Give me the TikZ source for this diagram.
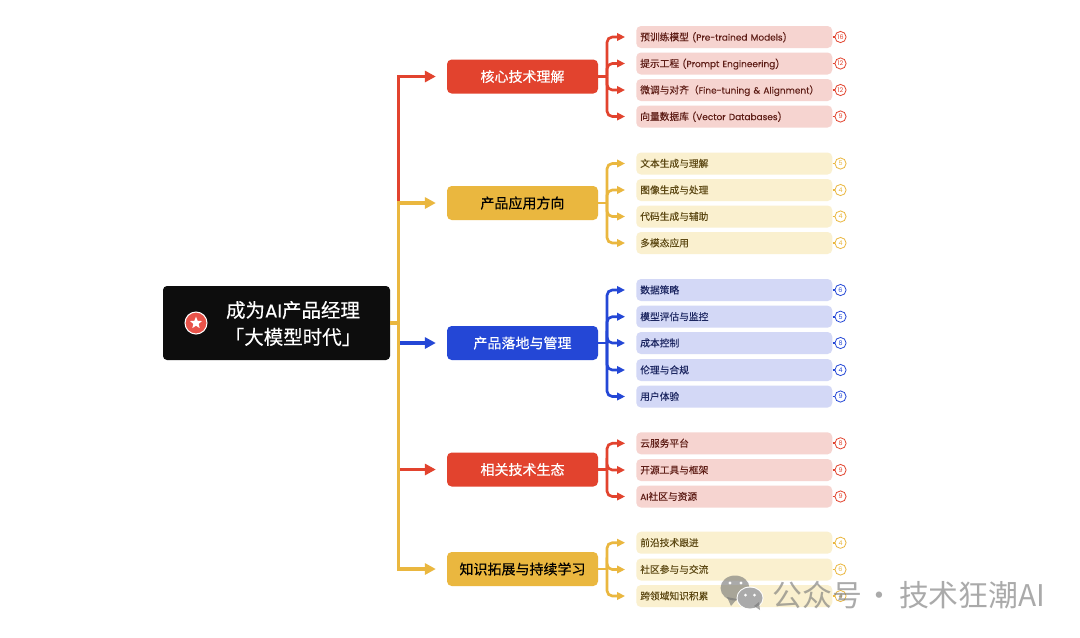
\documentclass[tikz,border=0pt]{standalone}
\usepackage{fontspec}
\usetikzlibrary{arrows.meta,shapes.geometric}
\setmainfont{Noto Sans CJK SC}
\newfontfamily\medf[FakeBold=0.35]{Noto Sans CJK SC}
\newfontfamily\lightf[FakeBold=0.05]{Noto Sans CJK SC}
\newfontfamily\latf[Scale=0.92,FakeBold=0.05]{Poppins}
\newfontfamily\latn[Scale=0.92]{Poppins}
\newfontfamily\latm[Scale=0.95,FakeBold=0.35]{Poppins}
\newcommand\lat[1]{{\latf #1}}
\definecolor{mainr}{HTML}{E2432E}
\definecolor{mainy}{HTML}{EAB73F}
\definecolor{mainb}{HTML}{2447D6}
\definecolor{fillr}{HTML}{F6D4D0}
\definecolor{filly}{HTML}{FAF0CF}
\definecolor{fillb}{HTML}{D3D8F6}
\definecolor{textr}{HTML}{5E1D16}
\definecolor{texty}{HTML}{5E4A15}
\definecolor{textb}{HTML}{1B2560}
\definecolor{rootc}{HTML}{0D0D0D}
\definecolor{starc}{HTML}{E8534A}
\definecolor{wm}{HTML}{777777}
\tikzset{
  rootbox/.style={rectangle,rounded corners=3pt,fill=rootc,text=white,minimum width=170.25pt,minimum height=55.5pt,inner sep=0pt},
  branchbox/.style={rectangle,rounded corners=3.5pt,minimum width=113.25pt,minimum height=25.5pt,inner sep=0pt,font=\medf\fontsize{10.5pt}{13pt}\selectfont},
  leafbox/.style={rectangle,rounded corners=3.5pt,anchor=west,minimum height=16.5pt,text width=141pt,inner xsep=3pt,inner ysep=0pt,align=left,text height=6.2pt,text depth=0.8pt,font=\lightf\fontsize{7.3pt}{9pt}\selectfont},
  badge/.style={circle,fill=white,draw,line width=0.6pt,minimum size=8.4pt,inner sep=0pt,font=\latn\fontsize{5.2pt}{5.2pt}\selectfont},
  trunkline/.style={line width=2.4pt},
  trunkarrow/.style={line width=2.4pt,-{Triangle[length=8.2pt,width=8.3pt]},shorten >=8.2pt},
  leafarrow/.style={line width=2pt,rounded corners=4pt,-{Triangle[length=6pt,width=5.6pt]},shorten >=8.2pt},
  badgeline/.style={line width=1.4pt},
  wmtext/.style={text=wm,opacity=0.62,inner sep=0pt,font=\fontsize{22.4pt}{24pt}\selectfont}
}
\newcommand\lfitem[6]{%
  \node[leafbox,fill=fill#3,text=text#3] (#1) at (636,#2) {#4};
  \node[badge,draw=main#3,text=main#3] (#1n) at (840.5,#2) {#5};
  \draw[leafarrow,draw=main#3] (#6) |- (#1.west);
  \draw[badgeline,draw=main#3] (#1.east) -- (#1n.west);
}
\begin{document}
\begin{tikzpicture}[x=0.75pt,y=-0.75pt]
\useasboundingbox (0,0) rectangle (1080,637);
\fill[white] (0,0) rectangle (1080,637);
% root
\node[rootbox] (root) at (276.5,323) {};
\node[circle,fill=starc,draw=white,line width=0.8pt,minimum size=16.5pt,inner sep=0pt] (starbg) at (196,323) {};
\node[star,star points=5,star point ratio=2.3,fill=white,minimum size=9.5pt,inner sep=0pt] (starfg) at (196,323) {};
\node[text=white,inner sep=0pt,align=center,font=\medf\fontsize{14.6pt}{20.2pt}\selectfont] (roott) at (293,323.5) {成为{\latm AI}产品经理\\「大模型时代」};
% branches
\node[branchbox,fill=mainr,text=white] (b1) at (522.5,76.5) {核心技术理解};
\node[branchbox,fill=mainy,text=black] (b2) at (522.5,203) {产品应用方向};
\node[branchbox,fill=mainb,text=white] (b3) at (522.5,343) {产品落地与管理};
\node[branchbox,fill=mainr,text=white] (b4) at (522.5,469.5) {相关技术生态};
\node[branchbox,fill=mainy,text=black] (b5) at (522.5,569) {知识拓展与持续学习};
\coordinate (tk) at (398.5,323);
\draw[trunkarrow,draw=mainr] (tk) |- (b1.west);
\coordinate (tk4) at (398.5,469.5);
\draw[trunkarrow,draw=mainr] (tk4) -- (b4.west);
\coordinate (tk3) at (398.5,343);
\draw[trunkarrow,draw=mainb] (tk3) -- (b3.west);
\draw[trunkarrow,draw=mainy] (tk) |- (b2.west);
\draw[trunkarrow,draw=mainy] (tk) |- (b5.west);
\draw[trunkline,draw=mainy] (root.east) -- (tk);
% junctions
\coordinate (j1) at (607,76.5);
\coordinate (j2) at (607,203);
\coordinate (j3) at (607,343);
\coordinate (j4) at (607,469.5);
\coordinate (j5) at (607,569);
\draw[line width=2pt,draw=mainr] (b1.east) -- (j1);
\draw[line width=2pt,draw=mainy] (b2.east) -- (j2);
\draw[line width=2pt,draw=mainb] (b3.east) -- (j3);
\draw[line width=2pt,draw=mainr] (b4.east) -- (j4);
\draw[line width=2pt,draw=mainy] (b5.east) -- (j5);
% leaves
\lfitem{a1}{37}{r}{预训练模型 \lat{(Pre-trained Models)}}{16}{j1}
\lfitem{a2}{63.5}{r}{提示工程 \lat{(Prompt Engineering)}}{12}{j1}
\lfitem{a3}{90}{r}{微调与对齐（\lat{Fine-tuning \& Alignment}）}{12}{j1}
\lfitem{a4}{116.5}{r}{向量数据库 \lat{(Vector Databases)}}{9}{j1}
\lfitem{c1}{163.5}{y}{文本生成与理解}{5}{j2}
\lfitem{c2}{190}{y}{图像生成与处理}{4}{j2}
\lfitem{c3}{216.5}{y}{代码生成与辅助}{4}{j2}
\lfitem{c4}{243}{y}{多模态应用}{4}{j2}
\lfitem{d1}{290}{b}{数据策略}{6}{j3}
\lfitem{d2}{316.7}{b}{模型评估与监控}{5}{j3}
\lfitem{d3}{343}{b}{成本控制}{8}{j3}
\lfitem{d4}{370}{b}{伦理与合规}{4}{j3}
\lfitem{d5}{396.5}{b}{用户体验}{9}{j3}
\lfitem{e1}{443.3}{r}{云服务平台}{8}{j4}
\lfitem{e2}{470}{r}{开源工具与框架}{9}{j4}
\lfitem{e3}{496.5}{r}{\lat{AI}社区与资源}{9}{j4}
\lfitem{f1}{542.7}{y}{前沿技术跟进}{4}{j5}
\lfitem{f2}{569.5}{y}{社区参与与交流}{6}{j5}
\lfitem{f3}{596}{y}{跨领域知识积累}{4}{j5}
% watermark
\fill[wm,opacity=0.62] (735,588) ellipse [x radius=14.5,y radius=12.5];
\fill[wm,opacity=0.62] (727,597) -- (731,606) -- (737,599) -- cycle;
\fill[white] (730,583) circle (1.7);
\fill[white] (741,583) circle (1.7);
\fill[white] (750,598) ellipse [x radius=13.5,y radius=11.5];
\fill[wm,opacity=0.62] (750,598) ellipse [x radius=12.5,y radius=10.5];
\fill[wm,opacity=0.62] (754,606) -- (760,610) -- (759,602) -- cycle;
\fill[white] (745.5,595) circle (1.5);
\fill[white] (754.5,595) circle (1.5);
\node[wmtext,anchor=west] (wmt) at (772,595) {公众号\hspace{2pt}·\hspace{3.5pt}技术狂潮{\fontspec{Noto Sans CJK SC}AI}};
\end{tikzpicture}
\end{document}
